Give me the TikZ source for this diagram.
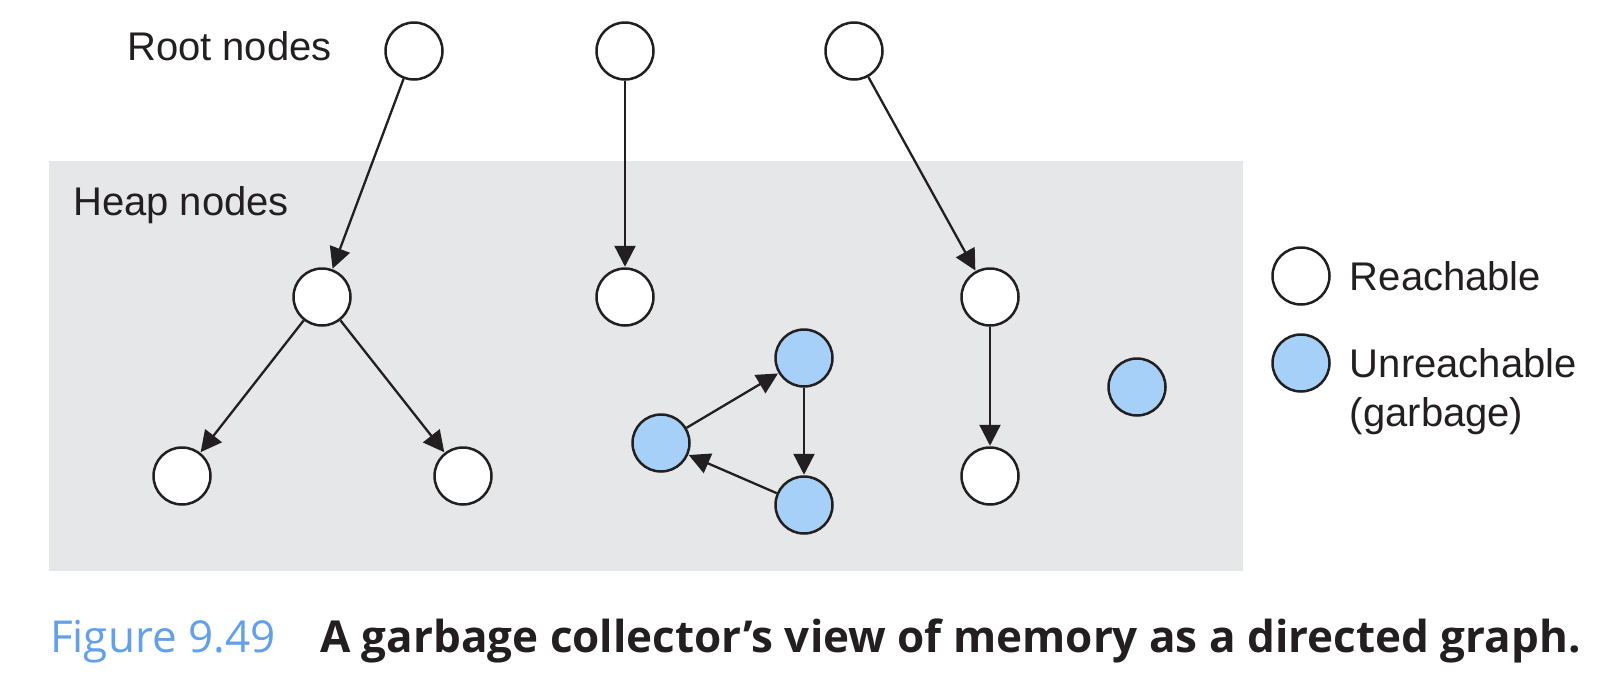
\documentclass[tikz,border=0pt]{standalone}
\usepackage{fontspec}
\setmainfont{Liberation Sans}
\newfontfamily\capfont{Open Sans}
\usetikzlibrary{arrows.meta,positioning}
\definecolor{heapgray}{RGB}{230,231,233}
\definecolor{garbage}{RGB}{166,208,247}
\definecolor{figblue}{RGB}{98,160,236}
\definecolor{ink}{RGB}{35,31,32}

\begin{document}
\begin{tikzpicture}[x=1pt,y=-1pt,color=ink,>={Triangle[length=21pt,width=21pt]},shorten >=0.5pt,line width=2.3pt]
	\tikzstyle{vert}=[draw, circle, fill=white, minimum size=57pt, inner sep=0pt, line width=2.5pt]
	\tikzstyle{junk}=[vert, fill=garbage]
	\tikzstyle{lbl}=[anchor=west, inner sep=0pt, font=\fontsize{40}{53}\selectfont]
	\useasboundingbox (0,0) rectangle (1604,686);
	\fill[heapgray] (49,161) rectangle (1243,571);
	% root set
	\node[lbl] (root) at (126,46) {Root nodes};
	\node[vert] (R1) at (414,51) {};
	\node[vert] (R2) at (625,51) {};
	\node[vert] (R3) at (854,51) {};
	% heap
	\node[lbl] (heap) at (72,205) {Heap nodes};
	\node[vert] (A) at (322,297) {};
	\node[vert] (B) at (625,297) {};
	\node[vert] (C) at (990,297) {};
	\node[vert] (D) at (182,476) {};
	\node[vert] (E) at (463,476) {};
	\node[vert] (F) at (990,476) {};
	\node[junk] (G) at (804,358) {};
	\node[junk] (H) at (661,443) {};
	\node[junk] (I) at (804,505) {};
	\node[junk] (J) at (1137,387) {};
	\path[->]
		(R1) edge (A)
		(R2) edge (B)
		(R3) edge (C)
		(A) edge (D)
		(A) edge (E)
		(C) edge (F)
		(G) edge (I)
		(I) edge (H)
		(H) edge (G);
	% legend
	\node[vert] (K) at (1301,276) {};
	\node[junk] (L) at (1301,363) {};
	\node[lbl, right=18pt of K] (reach) {Reachable};
	\node[lbl, right=18pt of L] (unreach) {Unreachable};
	\node[lbl] (garb) at ([yshift=-53pt]unreach.west) {(garbage)};
	% caption
	\node[anchor=base west, inner sep=0pt, text=figblue, font=\capfont\fontsize{44}{50}\selectfont] (fig) at (49,652) {Figure 9.49};
	\node[anchor=base west, inner sep=0pt, font=\capfont\bfseries\fontsize{44}{50}\selectfont] (cap) at (319,652) {A garbage collector’s view of memory as a directed graph.};
\end{tikzpicture}
\end{document}
